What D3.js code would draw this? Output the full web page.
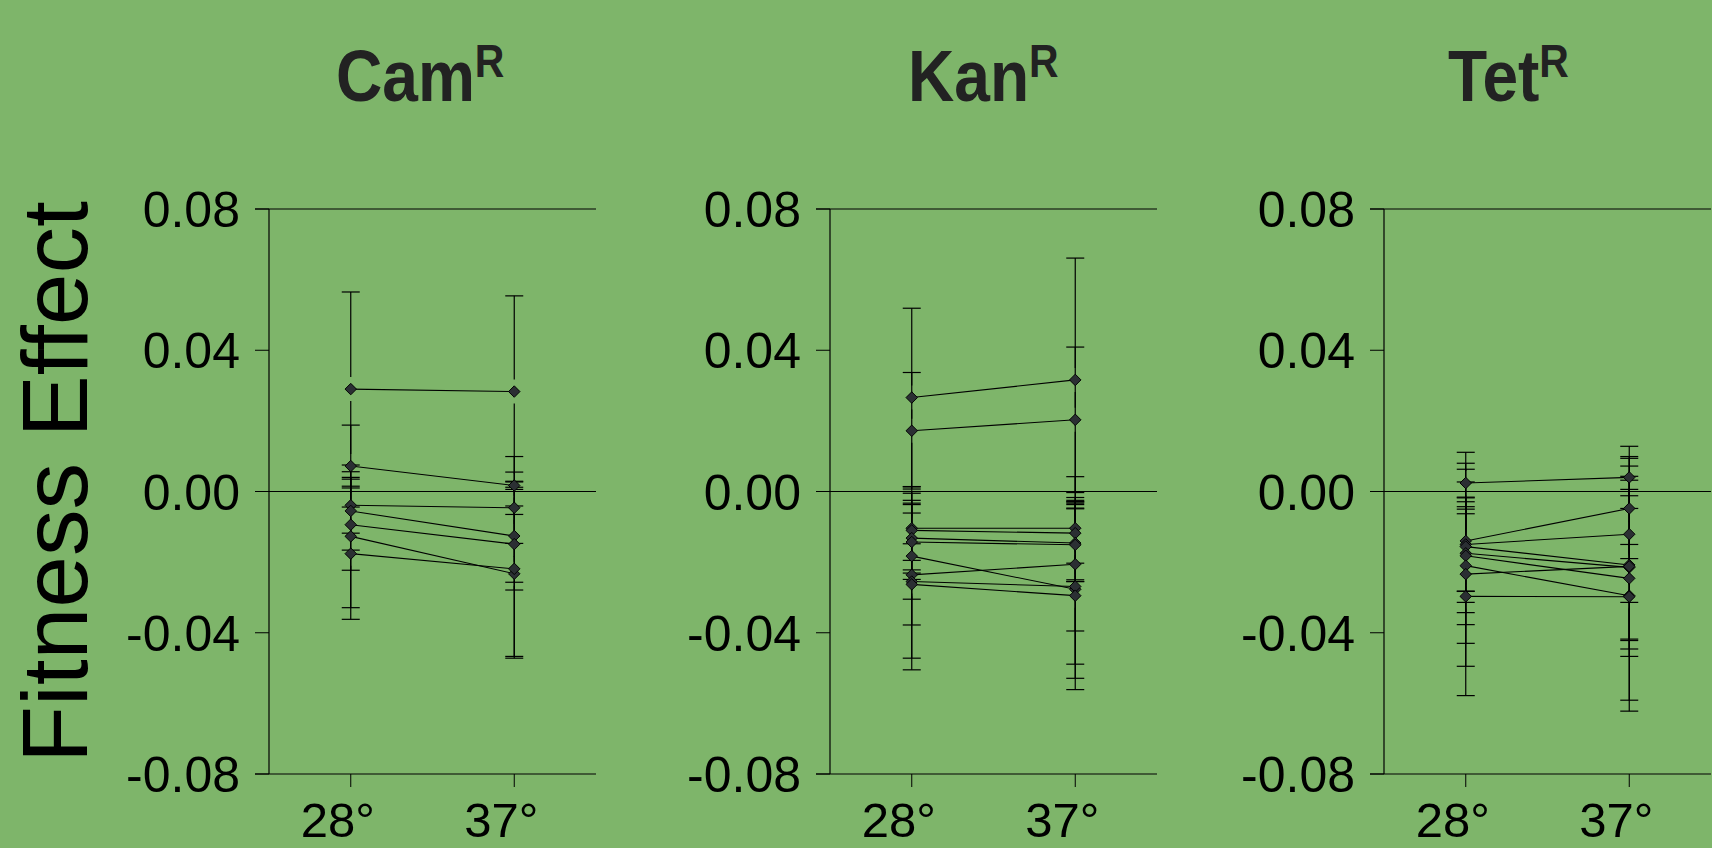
<!DOCTYPE html>
<html>
<head>
<meta charset="utf-8">
<script src="https://cdn.jsdelivr.net/npm/d3@7"></script>
<style>
  html, body { margin: 0; padding: 0; background: #7eb56a; }
  svg { display: block; font-family: 'Liberation Sans', Arial, sans-serif; }
</style>
</head>
<body>
<div class="chart"></div>
<script>
// data
const conditions = ['28°', '37°'];
const panelNames = ['Cam', 'Kan', 'Tet'];
const yTicks = [0.08, 0.04, 0, -0.04, -0.08];
const yTickLabels = ['0.08', '0.04', '0.00', '-0.04', '-0.08'];

const cam28 = [0.0290, 0.0072, -0.0039, -0.0055, -0.0094, -0.0127, -0.0176];
const cam28Err = [0.0275, 0.0116, 0.0079, 0.0111, 0.0129, 0.0202, 0.0186];
const cam37 = [0.0283, 0.0017, -0.0046, -0.0126, -0.0149, -0.0233, -0.0219];
const cam37Err = [0.0271, 0.0082, 0.0101, 0.0153, 0.0108, 0.0239, 0.0248];

const kan28 = [0.0266, 0.0172, -0.0104, -0.0110, -0.0132, -0.0143, -0.0183, -0.0236, -0.0255, -0.0263];
const kan28Err = [0.0253, 0.0165, 0.0118, 0.0085, 0.0099, 0.0106, 0.0122, 0.0236, 0.0250, 0.0115];
const kan37 = [0.0316, 0.0203, -0.0104, -0.0118, -0.0146, -0.0151, -0.0277, -0.0206, -0.0269, -0.0295];
const kan37Err = [0.0345, 0.0206, 0.0146, 0.0085, 0.0109, 0.0104, 0.0252, 0.0189, 0.0220, 0.0266];

const tet28 = [0.0024, -0.0140, -0.0150, -0.0156, -0.0175, -0.0182, -0.0210, -0.0234, -0.0297];
const tet28Err = [0.0087, 0.0203, 0.0132, 0.0127, 0.0255, 0.0132, 0.0167, 0.0261, 0.0281];
const tet37 = [0.0040, -0.0048, -0.0121, -0.0208, -0.0215, -0.0246, -0.0295, -0.0212, -0.0298];
const tet37Err = [0.0088, 0.0142, 0.0193, 0.0214, 0.0203, 0.0345, 0.0327, 0.0255, 0.0148];

const panelData = [
  [cam28, cam28Err, cam37, cam37Err],
  [kan28, kan28Err, kan37, kan37Err],
  [tet28, tet28Err, tet37, tet37Err],
];

// layout
const W = 1712, H = 848;
const panelLeft = [269, 830, 1384];
const titleX = [336, 908, 1448];
const panelWidth = 327;
const plotTop = 209, plotBottom = 774;
const ink = '#000';

const svg = d3.select('.chart').append('svg')
  .attr('width', W)
  .attr('height', H);

const y = d3.scaleLinear().domain([-0.08, 0.08]).range([plotBottom, plotTop]);
const x = d3.scalePoint().domain(conditions).range([0, panelWidth]).padding(0.5);
const diamond = d3.symbol().type(d3.symbolSquare).size(66);
const gap = 12;

// y title
svg.append('text')
  .attr('transform', 'translate(87, 482) rotate(-90)')
  .attr('text-anchor', 'middle')
  .style('font-size', '93px')
  .style('fill', ink)
  .text('Fitness Effect');

panelNames.forEach((name, p) => {
  const g = svg.append('g')
    .attr('transform', 'translate(' + panelLeft[p] + ',0)');
  const [v28, e28, v37, e37] = panelData[p];

  // title with superscript R (slightly condensed like the original)
  const t = svg.append('text')
    .attr('transform', 'translate(' + titleX[p] + ',101) scale(0.89,1)')
    .style('font-weight', 'bold')
    .style('font-size', '72px')
    .style('fill', '#222');
  t.append('tspan').text(name);
  t.append('tspan')
    .attr('dy', -24)
    .style('font-size', '46px')
    .text('R');

  // frame: left axis, top line, bottom line, zero line
  g.append('line').attr('x1', 0).attr('x2', 0).attr('y1', plotTop).attr('y2', plotBottom)
    .attr('stroke', ink).attr('stroke-width', 1.2);
  g.append('line').attr('x1', -14).attr('x2', panelWidth).attr('y1', plotTop).attr('y2', plotTop)
    .attr('stroke', ink).attr('stroke-width', 1.2);
  g.append('line').attr('x1', -14).attr('x2', panelWidth).attr('y1', plotBottom).attr('y2', plotBottom)
    .attr('stroke', ink).attr('stroke-width', 1.2);
  g.append('line').attr('x1', 0).attr('x2', panelWidth).attr('y1', y(0)).attr('y2', y(0))
    .attr('stroke', ink).attr('stroke-width', 1.2);

  // y ticks and labels
  g.selectAll('.ytick')
    .data(yTicks)
    .enter().append('line')
    .attr('class', 'ytick')
    .attr('x1', -14).attr('x2', 0)
    .attr('y1', d => y(d)).attr('y2', d => y(d))
    .attr('stroke', ink).attr('stroke-width', 1);
  g.selectAll('.ylabel')
    .data(yTicks)
    .enter().append('text')
    .attr('class', 'ylabel')
    .attr('x', -29)
    .attr('y', d => y(d) + 18)
    .attr('text-anchor', 'end')
    .style('font-size', '50px')
    .style('fill', ink)
    .text((d, i) => yTickLabels[i]);

  // x ticks and labels
  g.selectAll('.xtick')
    .data(conditions)
    .enter().append('line')
    .attr('class', 'xtick')
    .attr('x1', d => x(d)).attr('x2', d => x(d))
    .attr('y1', plotBottom).attr('y2', plotBottom + 13)
    .attr('stroke', ink).attr('stroke-width', 1);
  g.selectAll('.xlabel')
    .data(conditions)
    .enter().append('text')
    .attr('class', 'xlabel')
    .attr('x', d => x(d) - 50)
    .attr('y', 837)
    .style('font-size', '49px')
    .style('fill', ink)
    .text(d => d);

  const series = v28.map((v, i) => ({
    pts: [
      { c: conditions[0], v: v, e: e28[i] },
      { c: conditions[1], v: v37[i], e: e37[i] },
    ]
  }));

  // connecting lines
  const line = d3.line().x(d => x(d.c)).y(d => y(d.v));
  g.selectAll('.series')
    .data(series)
    .enter().append('path')
    .attr('class', 'series')
    .attr('d', d => line(d.pts))
    .attr('fill', 'none')
    .attr('stroke', ink)
    .attr('stroke-width', 1.1);

  const pts = series.flatMap(s => s.pts);

  // error bars, with a small gap around the marker
  const eb = g.selectAll('.err')
    .data(pts)
    .enter().append('g')
    .attr('class', 'err')
    .attr('stroke', ink)
    .attr('stroke-width', 1.2);
  eb.append('line')
    .attr('x1', d => x(d.c)).attr('x2', d => x(d.c))
    .attr('y1', d => Math.max(y(d.v) - gap, y(d.v + d.e)))
    .attr('y2', d => y(d.v + d.e));
  eb.append('line')
    .attr('x1', d => x(d.c)).attr('x2', d => x(d.c))
    .attr('y1', d => Math.min(y(d.v) + gap, y(d.v - d.e)))
    .attr('y2', d => y(d.v - d.e));
  eb.append('line')
    .attr('x1', d => x(d.c) - 9).attr('x2', d => x(d.c) + 9)
    .attr('y1', d => y(d.v + d.e)).attr('y2', d => y(d.v + d.e));
  eb.append('line')
    .attr('x1', d => x(d.c) - 9).attr('x2', d => x(d.c) + 9)
    .attr('y1', d => y(d.v - d.e)).attr('y2', d => y(d.v - d.e));

  // markers
  g.selectAll('.pt')
    .data(pts)
    .enter().append('path')
    .attr('class', 'pt')
    .attr('d', diamond)
    .attr('transform', d => 'translate(' + x(d.c) + ',' + y(d.v) + ') rotate(45)')
    .attr('fill', '#2b2f33')
    .attr('stroke', ink)
    .attr('stroke-width', 0.9);
});
</script>
</body>
</html>
